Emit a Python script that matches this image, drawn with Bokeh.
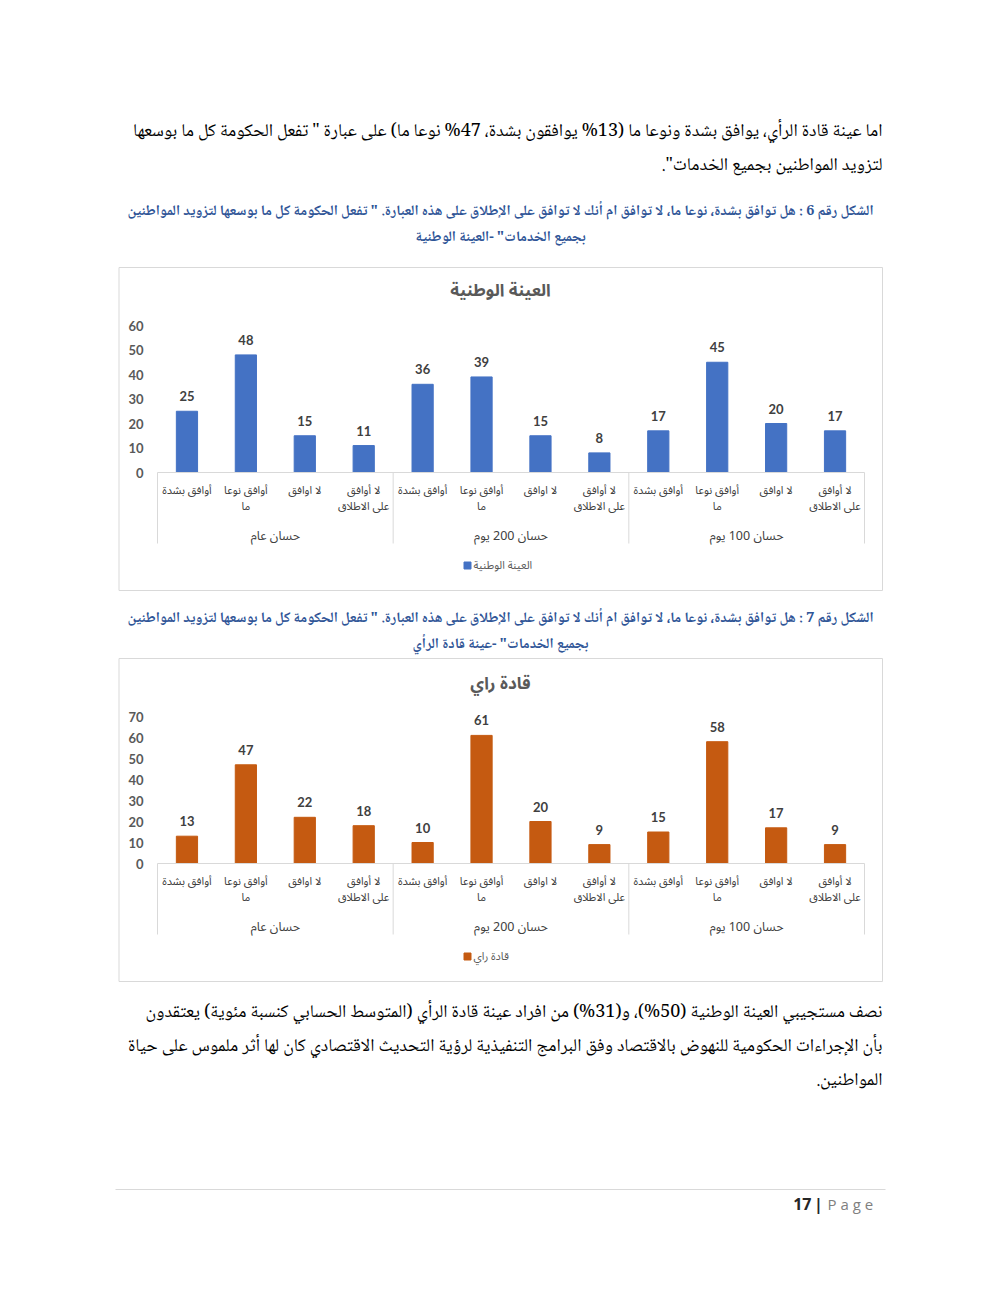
from bokeh.plotting import figure
from bokeh.models import Range1d
from bokeh.core.properties import value
from bokeh.embed import file_html
from bokeh.resources import INLINE

# ---------------- data ----------------
categories = ["أوافق بشدة", "أوافق نوعا\nما", "لا اوافق", "لا أوافق\nعلى الاطلاق"]
groups = ["حسان عام", "حسان 200 يوم", "حسان 100 يوم"]
national_values = [25, 48, 15, 11, 36, 39, 15, 8, 17, 45, 20, 17]
leaders_values = [13, 47, 22, 18, 10, 61, 20, 9, 15, 58, 17, 9]
national_ticks = [0, 10, 20, 30, 40, 50, 60]
leaders_ticks = [0, 10, 20, 30, 40, 50, 60, 70]
national_title = "العينة الوطنية"
leaders_title = "قادة راي"
national_legend = "العينة الوطنية"
leaders_legend = "قادة راي"

para_top = [
    "اما عينة قادة الرأي، يوافق بشدة ونوعا ما (13% يوافقون بشدة، 47% نوعا ما) على عبارة \" تفعل الحكومة كل ما بوسعها",
    "لتزويد المواطنين بجميع الخدمات\".",
]
caption1 = [
    "الشكل رقم 6 : هل توافق بشدة، نوعا ما، لا توافق ام أنك لا توافق على الإطلاق على هذه العبارة. \" تفعل الحكومة كل ما بوسعها لتزويد المواطنين",
    "بجميع الخدمات\" -العينة الوطنية",
]
caption2 = [
    "الشكل رقم 7 : هل توافق بشدة، نوعا ما، لا توافق ام أنك لا توافق على الإطلاق على هذه العبارة. \" تفعل الحكومة كل ما بوسعها لتزويد المواطنين",
    "بجميع الخدمات\" -عينة قادة الرأي",
]
para_bottom = [
    "نصف مستجيبي العينة الوطنية (50%)، و(31%) من افراد عينة قادة الرأي (المتوسط الحسابي كنسبة مئوية) يعتقدون",
    "بأن الإجراءات الحكومية للنهوض بالاقتصاد وفق البرامج التنفيذية لرؤية التحديث الاقتصادي كان لها أثر ملموس على حياة",
    "المواطنين.",
]
page_number = "17"

# ---------------- styles ----------------
BODY_FONT = "Noto Naskh Arabic, Noto Sans Arabic, DejaVu Sans"
CHART_FONT = "Noto Sans Arabic, DejaVu Sans, Liberation Sans"
NUM_FONT = "Lato"
GREY = "#595959"
LINE_GREY = "#D9D9D9"
BLUE = "#4472C4"
ORANGE = "#C55A11"
CAPTION = "#2F5597"


def rtl(s):
    return "\u202B" + s + "\u202C"


W, H = 984, 1278
p = figure(width=W, height=H, output_backend="svg", toolbar_location=None,
           x_range=Range1d(0, W), y_range=Range1d(H, 0),
           min_border=0, min_border_left=0, min_border_right=0,
           min_border_top=0, min_border_bottom=0)
p.axis.visible = False
p.grid.visible = False
p.outline_line_color = None
p.background_fill_color = "white"

# horizontal layout of both charts (page pixels)
PL, PR = 157.0, 864.0
cw = (PR - PL) / 12.0
p.extra_x_ranges["cx"] = Range1d((0 - PL) / cw, (W - PL) / cw)
# vertical scales
Z1, S1 = 472.0, 147.0 / 60.0
Z2, S2 = 863.0, 147.0 / 70.0
p.extra_y_ranges["c1y"] = Range1d((Z1 - H) / S1, Z1 / S1)
p.extra_y_ranges["c2y"] = Range1d((Z2 - H) / S2, Z2 / S2)


def ptext(x, y, t, size, color="black", align="right", font=BODY_FONT, style="normal", **kw):
    p.text(x=[x], y=[y], text=[t], text_font=value(font), text_font_size=f"{size}px",
           text_color=color, text_align=align, text_baseline="middle",
           text_font_style=style, **kw)


# top paragraph
for i, line in enumerate(para_top):
    ptext(882, 131 + 34 * i, rtl(line), 18)

# bottom paragraph
for i, line in enumerate(para_bottom):
    ptext(882, 1012 + 34 * i, rtl(line), 18)

# captions
for i, line in enumerate(caption1):
    ptext(500, 211 + 26 * i, rtl(line), 14.5, color=CAPTION, align="center", style="bold")
for i, line in enumerate(caption2):
    ptext(500, 618 + 26 * i, rtl(line), 14.5, color=CAPTION, align="center", style="bold")


def chart(vals, ticks, title, legend, color, yname, zero, box_top, box_bot, title_y, leg_y):
    # box
    p.quad(left=[118.5], right=[882], top=[box_top], bottom=[box_bot],
           fill_color=None, line_color=LINE_GREY, line_width=1)
    # title
    ptext(500, title_y, rtl(title), 17, color=GREY, align="center", font=CHART_FONT, style="bold")
    # y tick labels
    p.text(x=[143] * len(ticks), y=ticks, text=[str(t) for t in ticks], y_range_name=yname,
           text_font=value(NUM_FONT), text_font_size="13px", text_color=GREY,
           text_align="right", text_baseline="middle", text_font_style="bold")
    xs = [i + 0.5 for i in range(len(vals))]
    # bars
    p.vbar(x=xs, top=vals, bottom=0, width=0.36, color=color,
           x_range_name="cx", y_range_name=yname)
    # data labels
    p.text(x=xs, y=vals, text=[str(v) for v in vals], x_range_name="cx", y_range_name=yname,
           text_font=value(NUM_FONT), text_font_size="13px", text_color="#404040",
           text_align="center", text_baseline="middle", y_offset=-15, text_font_style="bold")
    # axis line and separators
    p.segment(x0=[0], x1=[12], y0=[zero], y1=[zero], x_range_name="cx",
              line_color=LINE_GREY, line_width=1)
    p.segment(x0=[0, 4, 8, 12], x1=[0, 4, 8, 12], y0=[zero] * 4, y1=[zero + 71] * 4,
              x_range_name="cx", line_color=LINE_GREY, line_width=1)
    # category labels
    l1, l2, lx = [], [], []
    for g in range(len(groups)):
        for c, cat in enumerate(categories):
            parts = cat.split("\n")
            lx.append(g * len(categories) + c + 0.5)
            l1.append(rtl(parts[0]))
            l2.append(rtl(parts[1]) if len(parts) > 1 else "")
    p.text(x=lx, y=[zero + 18] * len(lx), text=l1, x_range_name="cx",
           text_font=value(CHART_FONT), text_font_size="11px", text_color="#404040",
           text_align="center", text_baseline="middle")
    p.text(x=lx, y=[zero + 34] * len(lx), text=l2, x_range_name="cx",
           text_font=value(CHART_FONT), text_font_size="11px", text_color="#404040",
           text_align="center", text_baseline="middle")
    # group labels
    gx = [g * len(categories) + len(categories) / 2 for g in range(len(groups))]
    p.text(x=gx, y=[zero + 63] * len(gx), text=[rtl(g) for g in groups], x_range_name="cx",
           text_font=value(CHART_FONT), text_font_size="12.5px", text_color="#404040",
           text_align="center", text_baseline="middle")
    # legend
    p.scatter(x=[500 - 33], y=[leg_y], marker="square", size=7, color=color)
    ptext(500 - 27, leg_y, rtl(legend), 11, color=GREY, align="left", font=CHART_FONT)


chart(national_values, national_ticks, national_title, national_legend, BLUE, "c1y", Z1,
      267, 590, 290, 565)
chart(leaders_values, leaders_ticks, leaders_title, leaders_legend, ORANGE, "c2y", Z2,
      658, 981, 683, 956)

# footer
p.segment(x0=[115], x1=[885], y0=[1189], y1=[1189], line_color=LINE_GREY, line_width=1)
ptext(811, 1203, page_number, 16, color="#262626", align="right", font="Open Sans", style="bold")
ptext(818, 1203, "|", 16, color="#262626", align="center", font="Open Sans", style="bold")
ptext(827, 1203, "P a g e", 15, color="#7F7F7F", align="left", font="Open Sans")

open("out.html", "w").write(file_html(p, INLINE))
